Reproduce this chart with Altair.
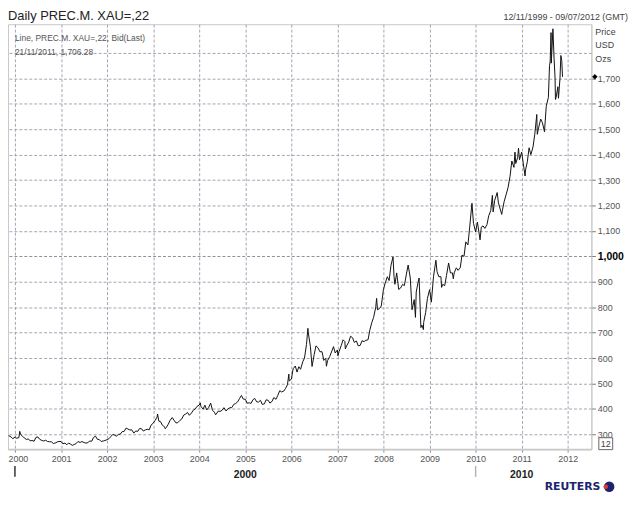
import altair as alt
import pandas as pd

dates = [
    "1999-11-12", "1999-12-01", "1999-12-15",
    "2000-01-03", "2000-01-15", "2000-02-01", "2000-02-08", "2000-02-15", "2000-03-01", "2000-03-15",
    "2000-04-01", "2000-04-15", "2000-05-01", "2000-05-15", "2000-06-01", "2000-06-15", "2000-07-01",
    "2000-07-15", "2000-08-01", "2000-08-15", "2000-09-01", "2000-09-15", "2000-10-01", "2000-10-15",
    "2000-11-01", "2000-11-15", "2000-12-01", "2000-12-15",
    "2001-01-01", "2001-01-15", "2001-02-01", "2001-02-15", "2001-03-01", "2001-03-15", "2001-04-01",
    "2001-04-15", "2001-05-01", "2001-05-15", "2001-06-01", "2001-06-15", "2001-07-01", "2001-07-15",
    "2001-08-01", "2001-08-15", "2001-09-01", "2001-09-15", "2001-10-01", "2001-10-15", "2001-11-01",
    "2001-11-15", "2001-12-01", "2001-12-15",
    "2002-01-01", "2002-01-15", "2002-02-01", "2002-02-15", "2002-03-01", "2002-03-15", "2002-04-01",
    "2002-04-15", "2002-05-01", "2002-05-15", "2002-06-01", "2002-06-15", "2002-07-01", "2002-07-15",
    "2002-08-01", "2002-08-15", "2002-09-01", "2002-09-15", "2002-10-01", "2002-10-15", "2002-11-01",
    "2002-11-15", "2002-12-01", "2002-12-15",
    "2003-01-01", "2003-01-15", "2003-02-01", "2003-02-05", "2003-02-15", "2003-03-01", "2003-03-15",
    "2003-04-01", "2003-04-07", "2003-04-15", "2003-05-01", "2003-05-15", "2003-06-01", "2003-06-15",
    "2003-07-01", "2003-07-15", "2003-08-01", "2003-08-15", "2003-09-01", "2003-09-15", "2003-10-01",
    "2003-10-15", "2003-11-01", "2003-11-15", "2003-12-01", "2003-12-15",
    "2004-01-01", "2004-01-10", "2004-01-15", "2004-02-01", "2004-02-15", "2004-03-01", "2004-03-15",
    "2004-04-01", "2004-04-15", "2004-05-01", "2004-05-10", "2004-05-15", "2004-06-01", "2004-06-15",
    "2004-07-01", "2004-07-15", "2004-08-01", "2004-08-15", "2004-09-01", "2004-09-15", "2004-10-01",
    "2004-10-15", "2004-11-01", "2004-11-15", "2004-12-01", "2004-12-15",
    "2005-01-01", "2005-01-15", "2005-02-01", "2005-02-15", "2005-03-01", "2005-03-15", "2005-04-01",
    "2005-04-15", "2005-05-01", "2005-05-15", "2005-06-01", "2005-06-15", "2005-07-01", "2005-07-15",
    "2005-08-01", "2005-08-15", "2005-09-01", "2005-09-15", "2005-10-01", "2005-10-15", "2005-11-01",
    "2005-11-15", "2005-12-01", "2005-12-12", "2005-12-15",
    "2006-01-01", "2006-01-15", "2006-02-01", "2006-02-15", "2006-03-01", "2006-03-15", "2006-04-01",
    "2006-04-15", "2006-05-01", "2006-05-12", "2006-05-15", "2006-06-01", "2006-06-14", "2006-07-01",
    "2006-07-15", "2006-08-01", "2006-08-15", "2006-09-01", "2006-09-15", "2006-10-01", "2006-10-06",
    "2006-10-15", "2006-11-01", "2006-11-15", "2006-12-01", "2006-12-15",
    "2007-01-01", "2007-01-05", "2007-01-15", "2007-02-01", "2007-02-15", "2007-03-01", "2007-03-05",
    "2007-03-15", "2007-04-01", "2007-04-15", "2007-05-01", "2007-05-15", "2007-06-01", "2007-06-15",
    "2007-07-01", "2007-07-15", "2007-08-01", "2007-08-15", "2007-09-01", "2007-09-15", "2007-10-01",
    "2007-10-15", "2007-11-01", "2007-11-08", "2007-11-15", "2007-12-01", "2007-12-15",
    "2008-01-01", "2008-01-15", "2008-02-01", "2008-02-15", "2008-03-01", "2008-03-17", "2008-03-25",
    "2008-04-01", "2008-04-15", "2008-05-01", "2008-05-15", "2008-06-01", "2008-06-15", "2008-07-01",
    "2008-07-15", "2008-08-01", "2008-08-15", "2008-09-01", "2008-09-11", "2008-09-17", "2008-10-01",
    "2008-10-10", "2008-10-24", "2008-11-01", "2008-11-13", "2008-11-15", "2008-12-01", "2008-12-15",
    "2009-01-01", "2009-01-15", "2009-02-01", "2009-02-20", "2009-03-01", "2009-03-15", "2009-04-01",
    "2009-04-06", "2009-04-15", "2009-05-01", "2009-05-15", "2009-06-01", "2009-06-15", "2009-07-01",
    "2009-07-08", "2009-07-15", "2009-08-01", "2009-08-15", "2009-09-01", "2009-09-15", "2009-10-01",
    "2009-10-15", "2009-11-01", "2009-11-15", "2009-12-03", "2009-12-15",
    "2010-01-01", "2010-01-15", "2010-02-01", "2010-02-05", "2010-02-15", "2010-03-01", "2010-03-15",
    "2010-04-01", "2010-04-15", "2010-05-01", "2010-05-14", "2010-05-20", "2010-06-01", "2010-06-21",
    "2010-07-01", "2010-07-27", "2010-08-01", "2010-08-15", "2010-09-01", "2010-09-15", "2010-10-01",
    "2010-10-15", "2010-11-01", "2010-11-09", "2010-11-15", "2010-12-01", "2010-12-07", "2010-12-15",
    "2011-01-01", "2011-01-28", "2011-02-01", "2011-02-15", "2011-03-01", "2011-03-15", "2011-04-01",
    "2011-04-15", "2011-05-01", "2011-05-05", "2011-05-15", "2011-06-01", "2011-06-15", "2011-07-01",
    "2011-07-15", "2011-08-01", "2011-08-10", "2011-08-15", "2011-08-22", "2011-08-24", "2011-09-06",
    "2011-09-15", "2011-09-23", "2011-09-26", "2011-10-01", "2011-10-15", "2011-10-20", "2011-11-01",
    "2011-11-08", "2011-11-15", "2011-11-21",
]
prices = [
    295, 290, 283,
    290, 285, 287, 312, 300, 293, 286,
    280, 282, 275, 276, 273, 288, 290,
    281, 276, 274, 277, 272, 271, 271,
    264, 266, 270, 272,
    272, 263, 266, 259, 266, 262, 257,
    260, 264, 272, 268, 272, 268, 266,
    267, 274, 273, 288, 293, 281, 279,
    272, 274, 276,
    279, 283, 292, 300, 297, 293, 300,
    301, 311, 311, 325, 321, 317, 318,
    305, 313, 312, 323, 322, 313, 318,
    320, 318, 336,
    344, 354, 368, 380, 352, 350, 336,
    330, 322, 327, 340, 355, 366, 356,
    345, 346, 355, 360, 376, 380, 386,
    375, 384, 395, 400, 410,
    415, 424, 410, 399, 415, 396, 405,
    423, 395, 387, 377, 380, 392, 390,
    395, 405, 392, 400, 405, 405, 418,
    421, 428, 440, 453, 439,
    438, 423, 424, 422, 435, 442, 428,
    427, 434, 418, 420, 436, 434, 423,
    430, 445, 438, 453, 472, 467, 470,
    480, 495, 537, 510,
    517, 558, 569, 545, 566, 556, 585,
    600, 654, 717, 700, 645, 567, 614,
    648, 640, 625, 625, 591, 599, 568,
    590, 606, 624, 645, 620,
    632, 609, 627, 650, 672, 665, 636,
    648, 663, 686, 680, 662, 667, 648,
    650, 668, 665, 670, 672, 710, 740,
    760, 800, 835, 790, 795, 805,
    870, 895, 920, 905, 965, 998, 920,
    890, 935, 870, 875, 890, 885, 930,
    966, 915, 790, 830, 760, 860, 896,
    915, 720, 730, 712, 740, 780, 835,
    869, 820, 920, 985, 940, 920, 920,
    878, 890, 885, 925, 974, 935, 935,
    912, 935, 955, 945, 955, 1005, 1000,
    1057, 1045, 1115, 1209, 1130,
    1096, 1135, 1080, 1065, 1115, 1120, 1110,
    1125, 1160, 1180, 1240, 1175, 1220, 1251,
    1210, 1165, 1180, 1215, 1245, 1270, 1315,
    1375, 1350, 1410, 1365, 1390, 1425, 1380,
    1410, 1316, 1340, 1372, 1427, 1400, 1430,
    1480, 1558, 1480, 1505, 1540, 1525, 1490,
    1590, 1625, 1750, 1765, 1880, 1760, 1895,
    1780, 1700, 1617, 1625, 1667, 1622, 1700,
    1790, 1770, 1706,
]

year_ticks = list(range(2000, 2013))
price_ticks = list(range(300, 1900, 100))
decade_labels = ["2000", "2010"]
decade_centers = ["2005-01-01", "2011-01-01"]
decade_starts = ["2000-01-01", "2010-01-01"]
decade_colors = ["#333333", "#b4b4b4"]

title_text = "Daily PREC.M. XAU=,22"
range_text = "12/11/1999 - 09/07/2012 (GMT)"
legend_line1 = "Line, PREC.M. XAU=,22, Bid(Last)"
legend_line2 = "21/11/2011, 1,706.28"
unit_lines = ["Price", "USD", "Ozs"]
last_price = 1706.28
box_label = "12"
brand = "REUTERS"

# ---- layout / styling ----
W, H = 589, 429
FONT = "Liberation Sans"
GRID = "#a4a4b4"

df = pd.DataFrame({"date": pd.to_datetime(dates), "price": prices})

x_scale = alt.Scale(domain=[alt.DateTime(year=1999, month=11, date=7),
                            alt.DateTime(year=2012, month=7, date=7)])
y_scale = alt.Scale(domain=[242, 1913], nice=False, zero=False)

x_axis = alt.Axis(
    values=[alt.DateTime(year=y, month=1, date=1) for y in year_ticks],
    format="%Y", title=None, grid=True, gridColor=GRID, gridDash=[3, 2],
    domainColor="#c8c8c8", domainWidth=2, tickColor="#888888", tickSize=3,
    labelFont=FONT, labelFontSize=9, labelColor="#555555", labelPadding=2,
    labelFlush=False,
    labelOffset={"condition": {"test": "year(datum.value) == 2000", "value": 3}, "value": 0},
)
y_axis = alt.Axis(
    orient="right", values=price_ticks, title=None, grid=True,
    gridColor={"condition": {"test": "datum.value == 1000", "value": "#8c8c9c"}, "value": GRID},
    gridDash=[3, 2],
    labelExpr="datum.value >= 1800 ? '' : format(datum.value, ',')",
    labelFont=FONT,
    labelFontSize={"condition": {"test": "datum.value == 1000", "value": 10.5}, "value": 9},
    labelFontWeight={"condition": {"test": "datum.value == 1000", "value": "bold"}, "value": "normal"},
    labelColor={"condition": {"test": "datum.value == 1000", "value": "#000000"}, "value": "#555555"},
    tickColor={"condition": {"test": "datum.value >= 1800", "value": "transparent"}, "value": "#777777"},
    tickSize=4, labelPadding=2, domainColor="#c8c8c8",
)

x_enc = alt.X("date:T", scale=x_scale, axis=x_axis)
y_enc = alt.Y("price:Q", scale=y_scale, axis=y_axis)

line = alt.Chart(df).mark_line(color="#111111", strokeWidth=1).encode(x=x_enc, y=y_enc)


def txt(text, x, y, **kw):
    kw.setdefault("font", FONT)
    kw.setdefault("baseline", "middle")
    return alt.Chart(alt.Data(values=[{"t": text}])).mark_text(**kw).encode(
        x=alt.value(x), y=alt.value(y), text="t:N")


title = txt(title_text, 0, -8, align="left", fontSize=13, color="#222222")
rng = txt(range_text, 626, -7, align="right", fontSize=9, color="#444444")
leg1 = txt(legend_line1, 7, 13.5, align="left", fontSize=8.5, color="#555555")
leg2 = txt(legend_line2, 7, 28, align="left", fontSize=8.5, color="#555555")
units = [txt(u, 593, yy, align="left", fontSize=9, color="#444444")
         for u, yy in zip(unit_lines, [8, 21, 35])]

diamond = alt.Chart(pd.DataFrame({"price": [last_price]})).mark_point(
    shape="diamond", filled=True, color="#000000", size=30, opacity=1
).encode(x=alt.value(592.5), y=y_enc)

decades = alt.Chart(pd.DataFrame({"date": pd.to_datetime(decade_centers), "lab": decade_labels})).mark_text(
    font=FONT, fontSize=10.5, fontWeight="bold", color="#222222", baseline="middle"
).encode(x=x_enc, y=alt.value(455), text="lab:N")

dec_rules = alt.Chart(pd.DataFrame({"date": pd.to_datetime(decade_starts), "c": decade_colors})).mark_rule(
    strokeWidth=1.5
).encode(x=x_enc, y=alt.value(446), y2=alt.value(457), color=alt.Color("c:N", scale=None))

box = alt.Chart(alt.Data(values=[{}])).mark_rect(
    fill="white", stroke="#666666", strokeWidth=1
).encode(x=alt.value(596.5), x2=alt.value(610.5), y=alt.value(417.5), y2=alt.value(429.5))
box_txt = txt(box_label, 603.5, 423.5, align="center", fontSize=9, color="#444444")

reuters = txt(brand, 570, 467, align="center", font="DejaVu Sans", fontSize=11,
              fontWeight="bold", color="#1c2470")
globe = alt.Chart(alt.Data(values=[{}])).mark_point(
    shape="circle", filled=True, color="#1c2470", size=110, opacity=1
).encode(x=alt.value(607), y=alt.value(467))
globe_red = alt.Chart(alt.Data(values=[{}])).mark_point(
    shape="circle", filled=True, color="#e23a2a", size=22, opacity=1
).encode(x=alt.value(603.5), y=alt.value(467))

chart = alt.layer(
    line, diamond, dec_rules, decades, title, rng, leg1, leg2, *units,
    box, box_txt, reuters, globe, globe_red
).properties(
    width=W, height=H,
    autosize=alt.AutoSizeParams(type="none"),
    padding={"left": 0, "top": 14, "right": 41, "bottom": 49},
    background="white",
).configure_view(stroke="#c8c8c8")

chart.save("out.html", embed_options={"renderer": "svg", "actions": False})
